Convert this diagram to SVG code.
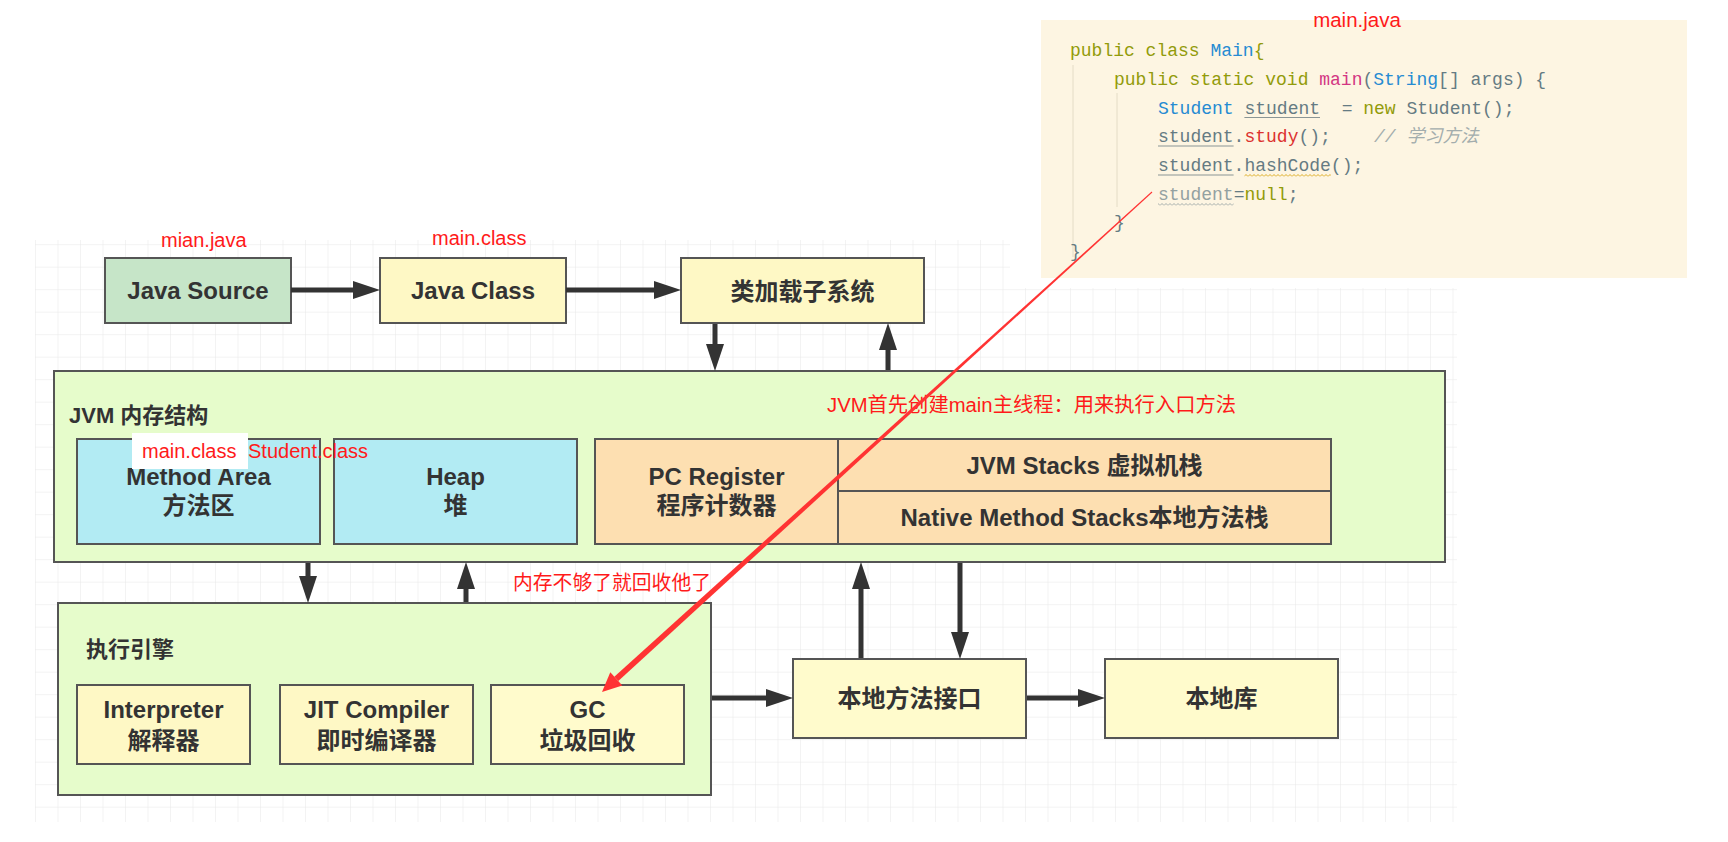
<svg xmlns="http://www.w3.org/2000/svg" width="1728" height="842" viewBox="0 0 1728 842">
<style>
.box{stroke:#555;stroke-width:2}
.lbl{font-family:"Liberation Sans","Noto Sans CJK SC",sans-serif;font-weight:bold;font-size:24px;fill:#333;text-anchor:middle}
.ttl{font-family:"Liberation Sans","Noto Sans CJK SC",sans-serif;font-weight:bold;font-size:22px;fill:#333}
.red{font-family:"Liberation Sans","Noto Sans CJK SC",sans-serif;font-size:20px;fill:#ff1a1a}
.code{font-family:"Liberation Mono","Noto Sans CJK SC",monospace;font-size:18px;fill:#657b83;white-space:pre}
.kw{fill:#929b0a}.ty{fill:#268bd2}.mg{fill:#d33682}.rd{fill:#dc322f}.cm{fill:#a3adad;font-style:italic}.lt{fill:#93a1a1}
.arr{stroke:#333;stroke-width:5;fill:none}
.ul{stroke:#8a9595;stroke-width:1}
.guide{stroke:#e4dcc6;stroke-width:1}
</style>
<defs>
<pattern id="grid" width="22.5" height="22.5" patternUnits="userSpaceOnUse" x="35" y="244.2">
<path d="M22.5 0 L0 0 0 22.5" fill="none" stroke="#e8e8e8" stroke-width="1"/>
</pattern>
<pattern id="waveY" width="4" height="3" patternUnits="userSpaceOnUse" x="0" y="174">
<path d="M0 2.5 L2 0.5 L4 2.5" fill="none" stroke="#d8a40c" stroke-width="0.9"/>
</pattern>
<pattern id="waveG" width="4" height="3" patternUnits="userSpaceOnUse" x="0" y="203">
<path d="M0 2.5 L2 0.5 L4 2.5" fill="none" stroke="#9aa5a5" stroke-width="0.9"/>
</pattern>
<marker id="ah" viewBox="0 0 27 18" refX="12" refY="9" markerWidth="27" markerHeight="18" markerUnits="userSpaceOnUse" orient="auto">
<path d="M0 0 L27 9 L0 18 Z" fill="#333"/>
</marker>
</defs>
<rect width="1728" height="842" fill="#fff"/>
<rect x="35" y="240" width="1422" height="582" fill="url(#grid)"/>
<rect x="1010" y="236" width="450" height="52" fill="#fff"/>

<g id="code">
<rect x="1041" y="20" width="646" height="258" fill="#fdf5e2"/>
<line class="guide" x1="1073" y1="65" x2="1073" y2="257"/>
<line class="guide" x1="1117" y1="93" x2="1117" y2="207"/>
<text class="code" x="1070" y="56"><tspan class="kw">public class </tspan><tspan class="ty">Main</tspan><tspan class="kw">{</tspan></text>
<text class="code" x="1114" y="85"><tspan class="kw">public static void </tspan><tspan class="mg">main</tspan>(<tspan class="ty">String</tspan>[] args) {</text>
<text class="code" x="1158" y="113.5"><tspan class="ty">Student </tspan>student  = <tspan class="kw">new</tspan> Student();</text>
<text class="code" x="1158" y="142">student.<tspan class="rd">study</tspan>();    <tspan class="cm">// 学习方法</tspan></text>
<text class="code" x="1158" y="171">student.hashCode();</text>
<text class="code" x="1158" y="199.5"><tspan class="lt">student</tspan>=<tspan class="kw">null</tspan>;</text>
<text class="code" x="1114" y="228">}</text>
<text class="code" x="1070" y="257">}</text>
<line class="ul" x1="1244.4" y1="117.5" x2="1320" y2="117.5"/>
<line class="ul" x1="1158" y1="146" x2="1233.6" y2="146"/>
<line class="ul" x1="1158" y1="175" x2="1233.6" y2="175"/>
<rect x="1244.4" y="174" width="86.4" height="3" fill="url(#waveY)"/>
<rect x="1158" y="203" width="75.6" height="3" fill="url(#waveG)"/>
<text class="red" x="1357" y="27" text-anchor="middle" style="font-size:20.5px">main.java</text>
</g>

<g id="java-source">
<rect class="box" x="105" y="258" width="186" height="65" fill="#c6e5c8"/>
<text class="lbl" x="198" y="299">Java Source</text>
</g>
<g id="java-class">
<rect class="box" x="380" y="258" width="186" height="65" fill="#fef8c5"/>
<text class="lbl" x="473" y="299">Java Class</text>
</g>
<g id="classloader">
<rect class="box" x="681" y="258" width="243" height="65" fill="#fef8c5"/>
<text class="lbl" x="802.5" y="300">类加载子系统</text>
</g>

<g id="jvm-memory">
<rect class="box" x="54" y="371" width="1391" height="191" fill="#e6fccb"/>
<text class="ttl" x="69" y="423">JVM 内存结构</text>
</g>
<g id="method-area">
<rect class="box" x="77" y="439" width="243" height="105" fill="#b2ebf3"/>
<text class="lbl" x="198.5" y="485">Method Area</text>
<text class="lbl" x="198.5" y="514">方法区</text>
</g>
<g id="heap">
<rect class="box" x="334" y="439" width="243" height="105" fill="#b2ebf3"/>
<text class="lbl" x="455.5" y="485">Heap</text>
<text class="lbl" x="455.5" y="514">堆</text>
</g>
<g id="pc-register">
<rect class="box" x="595" y="439" width="243" height="105" fill="#fddfb1"/>
<text class="lbl" x="716.5" y="485">PC Register</text>
<text class="lbl" x="716.5" y="514">程序计数器</text>
</g>
<g id="jvm-stacks">
<rect class="box" x="838" y="439" width="493" height="52" fill="#fddfb1"/>
<text class="lbl" x="1084.5" y="474">JVM Stacks 虚拟机栈</text>
</g>
<g id="native-stacks">
<rect class="box" x="838" y="491" width="493" height="53" fill="#fddfb1"/>
<text class="lbl" x="1084.5" y="526">Native Method Stacks本地方法栈</text>
</g>

<g id="exec-engine">
<rect class="box" x="58" y="603" width="653" height="192" fill="#e6fccb"/>
<text class="ttl" x="86" y="657">执行引擎</text>
</g>
<g id="interpreter">
<rect class="box" x="77" y="685" width="173" height="79" fill="#fef8c5"/>
<text class="lbl" x="163.5" y="718">Interpreter</text>
<text class="lbl" x="163.5" y="749">解释器</text>
</g>
<g id="jit">
<rect class="box" x="280" y="685" width="193" height="79" fill="#fef8c5"/>
<text class="lbl" x="376.5" y="718">JIT Compiler</text>
<text class="lbl" x="376.5" y="749">即时编译器</text>
</g>
<g id="gc">
<rect class="box" x="491" y="685" width="193" height="79" fill="#fffbcc"/>
<text class="lbl" x="587.5" y="718">GC</text>
<text class="lbl" x="587.5" y="749">垃圾回收</text>
</g>
<g id="native-interface">
<rect class="box" x="793" y="659" width="233" height="79" fill="#fffbcc"/>
<text class="lbl" x="909.5" y="707">本地方法接口</text>
</g>
<g id="native-lib">
<rect class="box" x="1105" y="659" width="233" height="79" fill="#fffbcc"/>
<text class="lbl" x="1221.5" y="707">本地库</text>
</g>

<g id="connectors">
<line class="arr" x1="291" y1="290" x2="365" y2="290" marker-end="url(#ah)"/>
<line class="arr" x1="566" y1="290" x2="666" y2="290" marker-end="url(#ah)"/>
<line class="arr" x1="715" y1="324" x2="715" y2="356" marker-end="url(#ah)"/>
<line class="arr" x1="888" y1="370" x2="888" y2="338" marker-end="url(#ah)"/>
<line class="arr" x1="308" y1="563" x2="308" y2="588" marker-end="url(#ah)"/>
<line class="arr" x1="466" y1="602" x2="466" y2="577" marker-end="url(#ah)"/>
<line class="arr" x1="861" y1="658" x2="861" y2="577" marker-end="url(#ah)"/>
<line class="arr" x1="960" y1="563" x2="960" y2="644" marker-end="url(#ah)"/>
<line class="arr" x1="712" y1="698" x2="778" y2="698" marker-end="url(#ah)"/>
<line class="arr" x1="1027" y1="698" x2="1090" y2="698" marker-end="url(#ah)"/>
</g>

<g id="annotations">
<text class="red" x="161" y="247">mian.java</text>
<text class="red" x="432" y="245">main.class</text>
<rect x="132" y="433" width="116" height="36" fill="#fff"/>
<text class="red" x="142" y="458">main.class</text>
<text class="red" x="248" y="458">Student.class</text>
<text class="red" x="827" y="412" textLength="409" lengthAdjust="spacingAndGlyphs">JVM首先创建main主线程：用来执行入口方法</text>
<text class="red" x="513" y="590" textLength="198" lengthAdjust="spacingAndGlyphs">内存不够了就回收他了</text>
<polygon points="1152.35,192.4 1151.65,191.6 614.3,676.7 618.3,681.1" fill="#ff3333"/>
<polygon points="602,692 610.3,672.2 622.3,685.5" fill="#ff3333"/>
</g>
</svg>
